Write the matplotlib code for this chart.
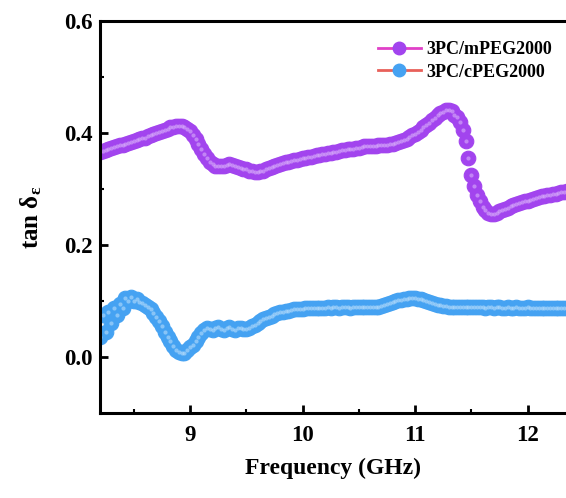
import numpy as np
import matplotlib.pyplot as plt
from matplotlib.lines import Line2D

plt.rcParams["font.family"] = ["Liberation Serif", "DejaVu Serif"]
plt.rcParams["font.weight"] = "bold"
plt.rcParams["mathtext.fontset"] = "custom"
plt.rcParams["mathtext.rm"] = "Liberation Serif:bold"
plt.rcParams["mathtext.it"] = "Liberation Serif:bold"

# tan delta_e, 3PC/mPEG2000 (8.2 GHz onward, 0.025 GHz step)
m_peg = [
    0.366, 0.368, 0.370, 0.371, 0.373, 0.375, 0.376, 0.378,
    0.379, 0.381, 0.382, 0.384, 0.386, 0.388, 0.389, 0.391,
    0.392, 0.394, 0.396, 0.398, 0.400, 0.402, 0.404, 0.406,
    0.408, 0.410, 0.411, 0.412, 0.413, 0.413, 0.411, 0.408,
    0.403, 0.397, 0.390, 0.381, 0.372, 0.363, 0.355, 0.349,
    0.345, 0.342, 0.341, 0.341, 0.342, 0.343, 0.344, 0.343,
    0.342, 0.340, 0.338, 0.336, 0.335, 0.333, 0.332, 0.331,
    0.331, 0.332, 0.333, 0.335, 0.337, 0.339, 0.341, 0.343,
    0.345, 0.347, 0.348, 0.349, 0.350, 0.351, 0.352, 0.354,
    0.355, 0.356, 0.357, 0.358, 0.359, 0.360, 0.361, 0.362,
    0.363, 0.364, 0.365, 0.366, 0.367, 0.368, 0.369, 0.370,
    0.371, 0.371, 0.372, 0.373, 0.374, 0.375, 0.376, 0.376,
    0.377, 0.377, 0.377, 0.378, 0.378, 0.378, 0.379, 0.380,
    0.381, 0.382, 0.384, 0.386, 0.388, 0.390, 0.393, 0.396,
    0.399, 0.402, 0.406, 0.410, 0.414, 0.418, 0.423, 0.427,
    0.432, 0.435, 0.438, 0.441, 0.442, 0.439, 0.433, 0.428,
    0.420, 0.405, 0.385, 0.355, 0.325, 0.305, 0.290, 0.278,
    0.268, 0.262, 0.258, 0.256, 0.256, 0.258, 0.260, 0.263,
    0.265, 0.267, 0.269, 0.271, 0.273, 0.275, 0.276, 0.278,
    0.279, 0.281, 0.282, 0.284, 0.285, 0.287, 0.288, 0.289,
    0.290, 0.291, 0.292, 0.293, 0.294, 0.295, 0.296,
]

# tan delta_e, 3PC/cPEG2000
c_peg = [
    0.035, 0.075, 0.045, 0.080, 0.060, 0.088, 0.075, 0.095,
    0.088, 0.105, 0.100, 0.108, 0.100, 0.103, 0.098, 0.097,
    0.093, 0.090, 0.085, 0.079, 0.072, 0.064, 0.055, 0.045,
    0.036, 0.028, 0.020, 0.013, 0.009, 0.007, 0.008, 0.013,
    0.018, 0.022, 0.028, 0.036, 0.042, 0.048, 0.052, 0.050,
    0.049, 0.052, 0.053, 0.050, 0.049, 0.052, 0.053, 0.050,
    0.049, 0.051, 0.052, 0.050, 0.050, 0.052, 0.055, 0.058,
    0.061, 0.064, 0.067, 0.070, 0.072, 0.074, 0.076, 0.078,
    0.080, 0.081, 0.082, 0.083, 0.084, 0.085, 0.085, 0.086,
    0.086, 0.087, 0.087, 0.087, 0.088, 0.087, 0.088, 0.088,
    0.088, 0.089, 0.088, 0.089, 0.089, 0.088, 0.089, 0.089,
    0.089, 0.088, 0.089, 0.089, 0.090, 0.089, 0.090, 0.090,
    0.090, 0.089, 0.089, 0.090, 0.091, 0.092, 0.094, 0.096,
    0.098, 0.100, 0.101, 0.102, 0.103, 0.104, 0.105, 0.105,
    0.105, 0.104, 0.103, 0.102, 0.100, 0.099, 0.097, 0.095,
    0.093, 0.092, 0.091, 0.091, 0.090, 0.090, 0.090, 0.089,
    0.089, 0.090, 0.089, 0.089, 0.090, 0.089, 0.089, 0.089,
    0.089, 0.088, 0.089, 0.089, 0.088, 0.089, 0.089, 0.088,
    0.088, 0.089, 0.088, 0.088, 0.089, 0.088, 0.088, 0.088,
    0.089, 0.088, 0.088, 0.087, 0.088, 0.088, 0.087, 0.088,
    0.088, 0.087, 0.088, 0.088, 0.087, 0.088, 0.088,
]

freq_m = 8.2 + 0.025 * np.arange(len(m_peg))
freq_c = 8.2 + 0.025 * np.arange(len(c_peg))

purple = "#a244ee"
blue = "#45a2f2"

fig = plt.figure(figsize=(5.66, 4.98), dpi=100)
ax = fig.add_axes([0.1767, 0.1707, 0.8233, 0.787])

ax.plot(freq_m, m_peg, "o", ms=10.5, mfc=purple, mec=purple, mew=0.8)
ax.plot(freq_c, c_peg, "o", ms=10.5, mfc=blue, mec=blue, mew=0.8)
# little highlights, like the shaded balls of the original
ax.plot(freq_m, m_peg, "o", ms=3, mfc="#d9b0fa", mec="none", alpha=0.6)
ax.plot(freq_c, c_peg, "o", ms=3, mfc="#b5dcfb", mec="none", alpha=0.6)

ax.set_xlim(8.2, 12.342)
ax.set_ylim(-0.1, 0.6)
ax.set_xticks([9, 10, 11, 12])
ax.set_xticks(np.arange(8.5, 12.4, 1.0), minor=True)
ax.set_yticks([0.0, 0.2, 0.4, 0.6])
ax.set_yticklabels(["0.0", "0.2", "0.4", "0.6"])
ax.set_yticks([0.1, 0.3, 0.5], minor=True)

ax.tick_params(which="major", direction="in", length=6, width=2, labelsize=16.5)
ax.tick_params(axis="y", which="major", pad=5)
ax.tick_params(axis="x", which="major", pad=9)
ax.tick_params(which="minor", direction="in", length=3, width=1.5)
for s in ["left", "bottom", "top"]:
    ax.spines[s].set_linewidth(2.2)
ax.spines["right"].set_visible(False)

ax.set_xlabel("Frequency (GHz)", fontsize=17, fontweight="bold", labelpad=8)
ax.set_ylabel(r"tan δ$_\mathrm{ε}$", fontsize=18, fontweight="bold", labelpad=15)

handles = [
    Line2D([], [], color="#e040c8", lw=2, marker="o", ms=9, mfc=purple, mec=purple),
    Line2D([], [], color="#e8605a", lw=2, marker="o", ms=9, mfc=blue, mec=blue),
]
ax.legend(handles, ["3PC/mPEG2000", "3PC/cPEG2000"], loc="upper right",
          bbox_to_anchor=(1.005, 0.99), frameon=False,
          handlelength=2.4, handletextpad=0.3, labelspacing=0.3,
          prop={"weight": "bold", "size": 13})

fig.savefig("out.png", dpi=100)
